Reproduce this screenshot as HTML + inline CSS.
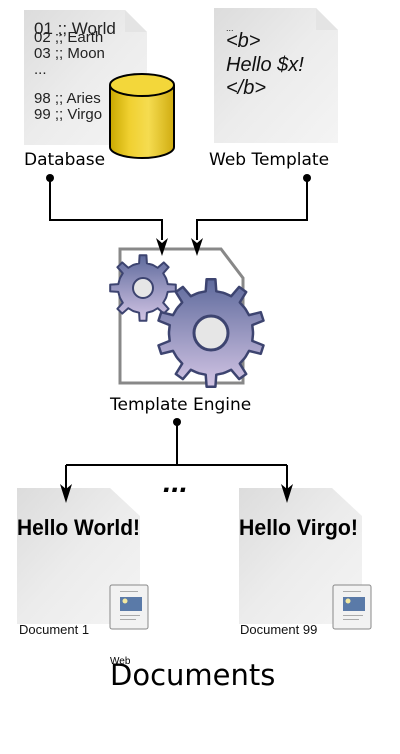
<!DOCTYPE html>
<html><head><meta charset="utf-8"><style>
html,body{margin:0;padding:0;background:#fff;width:400px;height:754px;overflow:hidden}
svg{display:block}
text{font-family:"Liberation Sans",sans-serif}
.dv{font-family:"DejaVu Sans",sans-serif}
</style></head><body>
<svg width="400" height="754" viewBox="0 0 400 754" xmlns="http://www.w3.org/2000/svg">
<defs>
<linearGradient id="pg" x1="0" y1="0" x2="1" y2="1">
<stop offset="0" stop-color="#dcdcdc"/><stop offset="0.5" stop-color="#ececec"/><stop offset="1" stop-color="#f4f4f4"/>
</linearGradient>
<linearGradient id="cy" x1="0" y1="0" x2="1" y2="0">
<stop offset="0" stop-color="#c9a800"/><stop offset="0.3" stop-color="#f0d030"/><stop offset="0.6" stop-color="#f5dc50"/><stop offset="1" stop-color="#d0ac10"/>
</linearGradient>
<linearGradient id="gg" x1="0" y1="0" x2="0" y2="1">
<stop offset="0" stop-color="#5e6a9c"/><stop offset="1" stop-color="#d2c4e4"/>
</linearGradient>
</defs>

<!-- Database doc -->
<path d="M24,10 H125 L147,32 V145 H24 Z" fill="url(#pg)"/>
<path d="M125,10 L125,32 L147,32 Z" fill="#e4e4e4"/>
<text x="34" y="34" font-size="17" fill="#222">01 ;; World</text>
<text x="34" y="42" font-size="15" fill="#222">02 ;; Earth</text>
<text x="34" y="58" font-size="15" fill="#222">03 ;; Moon</text>
<text x="34" y="74" font-size="15" fill="#222">...</text>
<text x="34" y="103" font-size="15" fill="#222">98 ;; Aries</text>
<text x="34" y="119" font-size="15" fill="#222">99 ;; Virgo</text>
<path d="M110,85 V147 A32,11 0 0 0 174,147 V85" fill="url(#cy)" stroke="#000" stroke-width="2"/>
<ellipse cx="142" cy="85" rx="32" ry="11" fill="#f3d73a" stroke="#000" stroke-width="2"/>
<text x="24" y="165" font-size="17" class="dv" fill="#000">Database</text>

<!-- Web template doc -->
<path d="M214,8 H316 L338,30 V143 H214 Z" fill="url(#pg)"/>
<path d="M316,8 L316,30 L338,30 Z" fill="#e4e4e4"/>
<text x="226" y="31" font-size="9" fill="#222">...</text>
<text x="226" y="47" font-size="20" font-style="italic" fill="#111">&lt;b&gt;</text>
<text x="226" y="71" font-size="20" font-style="italic" fill="#111">Hello $x!</text>
<text x="226" y="94" font-size="20" font-style="italic" fill="#111">&lt;/b&gt;</text>
<text x="209" y="165" font-size="17" class="dv" fill="#000">Web Template</text>

<!-- connectors top -->
<circle cx="50" cy="178" r="4" fill="#000"/>
<circle cx="307" cy="178" r="4" fill="#000"/>
<path d="M50,178 V220 H162 V240" fill="none" stroke="#000" stroke-width="2"/>
<path d="M307,178 V220 H197 V240" fill="none" stroke="#000" stroke-width="2"/>

<!-- engine doc -->
<path d="M120,249 H221 L243,278 V383 H120 Z" fill="#fff" stroke="#888" stroke-width="3"/>
<path d="M156,238 L162,256 L168,238 L162,243 Z" fill="#000"/>
<path d="M191,238 L197,256 L203,238 L197,243 Z" fill="#000"/>
<path id="g1" d="" fill="url(#gg)" stroke="#3d4470" stroke-width="2" stroke-linejoin="round"/>
<circle cx="143" cy="288" r="10" fill="#e6e6e6" stroke="#3d4470" stroke-width="2"/>
<path id="g2" d="" fill="url(#gg)" stroke="#3d4470" stroke-width="2.5" stroke-linejoin="round"/>
<circle cx="211" cy="333" r="17" fill="#e6e6e6" stroke="#3d4470" stroke-width="3"/>
<text x="110" y="410" font-size="17" class="dv" fill="#000">Template Engine</text>

<!-- connectors bottom -->
<circle cx="177" cy="422" r="4" fill="#000"/>
<path d="M177,422 V465" fill="none" stroke="#000" stroke-width="2"/>
<path d="M66,465 H287" fill="none" stroke="#000" stroke-width="2"/>
<path d="M66,465 V490" fill="none" stroke="#000" stroke-width="2"/>
<path d="M287,465 V490" fill="none" stroke="#000" stroke-width="2"/>
<text x="163" y="492" font-size="30" font-weight="bold" font-style="italic" fill="#000">...</text>

<!-- doc 1 -->
<path d="M17,488 H110 L140,516 V624 H17 Z" fill="url(#pg)"/>
<text x="17" y="535" font-size="22" font-weight="bold" fill="#000" textLength="123" lengthAdjust="spacingAndGlyphs">Hello World!</text>
<g transform="translate(110,585)">
<rect width="38" height="44" rx="2" fill="#f2f2f2" stroke="#888" stroke-width="1"/>
<rect x="10" y="12" width="22" height="14" fill="#5a7aa8"/>
<circle cx="15" cy="16" r="2.5" fill="#f4e9a0"/>
<rect x="10" y="6" width="18" height="1" fill="#aaa"/><rect x="10" y="30" width="20" height="1" fill="#aaa"/><rect x="10" y="34" width="16" height="1" fill="#aaa"/>
</g>
<text x="19" y="634" font-size="13" fill="#111">Document 1</text>

<!-- doc 99 -->
<path d="M239,488 H332 L362,516 V624 H239 Z" fill="url(#pg)"/>
<text x="239" y="535" font-size="22" font-weight="bold" fill="#000" textLength="119" lengthAdjust="spacingAndGlyphs">Hello Virgo!</text>
<g transform="translate(333,585)">
<rect width="38" height="44" rx="2" fill="#f2f2f2" stroke="#888" stroke-width="1"/>
<rect x="10" y="12" width="22" height="14" fill="#5a7aa8"/>
<circle cx="15" cy="16" r="2.5" fill="#f4e9a0"/>
<rect x="10" y="6" width="18" height="1" fill="#aaa"/><rect x="10" y="30" width="20" height="1" fill="#aaa"/><rect x="10" y="34" width="16" height="1" fill="#aaa"/>
</g>
<text x="240" y="634" font-size="13" fill="#111">Document 99</text>

<!-- bottom arrowheads on top -->
<path d="M66,485 V495" stroke="#000" stroke-width="2"/>
<path d="M287,485 V495" stroke="#000" stroke-width="2"/>
<path d="M60,484 L66,503 L72,484 L66,489 Z" fill="#000"/>
<path d="M281,484 L287,503 L293,484 L287,489 Z" fill="#000"/>

<text x="110" y="664" font-size="10" fill="#000">Web</text>
<text x="110" y="685" font-size="29" class="dv" fill="#000">Documents</text>
</svg>
<script>
function gear(cx,cy,n,R,r,rot){
  var d="",step=2*Math.PI/n;
  for(var i=0;i<n;i++){
    var a=rot+i*step;
    var pts=[[a-step*0.5+step*0.04,r],[a-step*0.2,r],[a-step*0.13,R],[a+step*0.13,R],[a+step*0.2,r],[a+step*0.5-step*0.04,r]];
    for(var j=0;j<pts.length;j++){
      var x=cx+pts[j][1]*Math.cos(pts[j][0]),y=cy+pts[j][1]*Math.sin(pts[j][0]);
      d+=(d?"L":"M")+x.toFixed(1)+","+y.toFixed(1);
    }
  }
  return d+"Z";
}
document.getElementById("g1").setAttribute("d",gear(143,288,8,33,25,-Math.PI/2));
document.getElementById("g2").setAttribute("d",gear(211,333,10,54,42,-Math.PI/2));
</script>
</body></html>
